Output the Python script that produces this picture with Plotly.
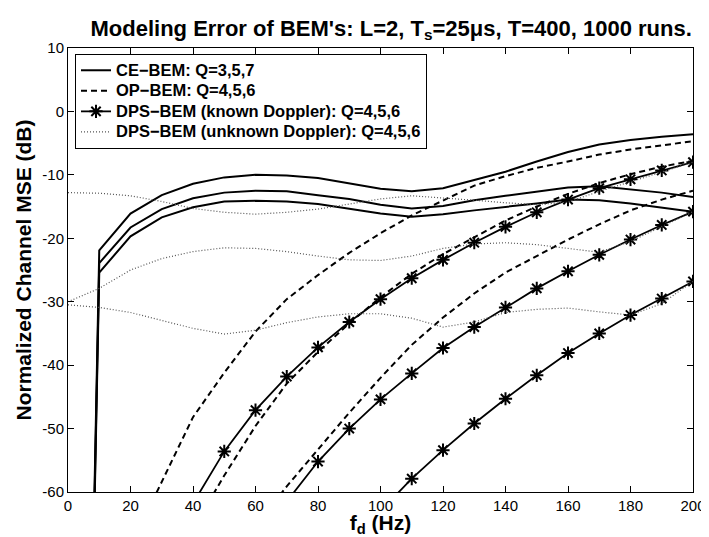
import plotly.graph_objects as go

# Doppler frequency grid (Hz)
fd = [0, 10, 20, 30, 40, 50, 60, 70, 80, 90, 100, 110, 120, 130, 140, 150, 160, 170, 180, 190, 200]

# CE-BEM (solid), Q = 3, 5, 7
ce_q3 = [-270, -21.9, -16.1, -13.2, -11.4, -10.4, -10.0, -10.1, -10.5, -11.3, -12.2, -12.6, -12.1, -10.8, -9.5, -7.9, -6.4, -5.2, -4.5, -4.0, -3.6]
ce_q5 = [-270, -23.9, -18.3, -15.4, -13.7, -12.8, -12.5, -12.6, -13.2, -13.8, -14.7, -15.3, -14.9, -14.0, -13.3, -12.6, -12.0, -11.8, -12.3, -12.8, -13.5]
ce_q7 = [-270, -25.4, -19.7, -16.7, -15.1, -14.2, -14.1, -14.2, -14.6, -15.3, -16.1, -16.6, -16.2, -15.6, -15.1, -14.5, -13.9, -14.0, -14.5, -15.1, -15.8]

# OP-BEM (dashed), Q = 4, 5, 6  (None = not visible / below axis range)
op_q4 = [None, None, -68.6, -58.4, -48.2, -41.2, -34.7, -29.6, -25.8, -22.3, -19.2, -16.4, -14.0, -11.7, -10.2, -8.9, -7.9, -6.8, -6.0, -5.3, -4.7]
op_q5 = [None, None, None, None, -65.8, -57.4, -49.6, -42.9, -37.9, -33.4, -29.3, -25.6, -22.5, -19.9, -17.2, -15.0, -13.0, -11.3, -9.9, -8.7, -7.8]
op_q6 = [None, None, None, None, None, None, -65.5, -59.1, -53.3, -47.5, -42.0, -36.8, -32.5, -28.7, -25.4, -22.8, -20.2, -17.8, -15.6, -13.9, -12.5]

# DPS-BEM, known Doppler (solid + stars), Q = 4, 5, 6
dk_q4 = [None, None, None, None, -61.8, -53.6, -47.1, -41.8, -37.2, -33.2, -29.6, -26.3, -23.4, -20.7, -18.2, -15.9, -13.9, -12.1, -10.7, -9.3, -8.0]
dk_q5 = [None, None, None, None, None, None, None, -61.5, -55.2, -50.0, -45.4, -41.3, -37.3, -34.0, -30.9, -27.9, -25.2, -22.6, -20.2, -17.9, -15.8]
dk_q6 = [None, None, None, None, None, None, None, None, None, None, -63.0, -57.9, -53.4, -49.2, -45.3, -41.6, -38.1, -35.0, -32.1, -29.5, -26.8]

# DPS-BEM, unknown Doppler (dotted), Q = 4, 5, 6
du_q4 = [-12.8, -12.9, -13.3, -14.2, -15.3, -15.9, -16.2, -15.9, -15.4, -14.6, -13.8, -13.3, -13.6, -14.0, -14.4, -14.7, -14.3, -12.6, -11.1, -9.6, -8.0]
du_q5 = [-30.0, -27.9, -25.0, -23.2, -22.1, -21.5, -21.6, -22.1, -22.8, -23.4, -23.5, -22.8, -21.6, -20.9, -20.7, -21.0, -21.6, -22.2, -20.5, -18.2, -15.8]
du_q6 = [-30.5, -30.9, -31.7, -32.9, -34.2, -35.1, -34.5, -33.3, -32.4, -31.9, -31.9, -32.6, -34.0, -33.2, -31.7, -31.2, -31.0, -31.6, -32.1, -30.3, -26.8]

x_ticks = [0, 20, 40, 60, 80, 100, 120, 140, 160, 180, 200]
y_ticks = [-60, -50, -40, -30, -20, -10, 0, 10]
y_ticktext = ["-60", "-50", "-40", "-30", "-20", "-10", "0", "10"]

legend_names = ["CE\u2212BEM: Q=3,5,7", "OP\u2212BEM: Q=4,5,6",
                "DPS\u2212BEM (known Doppler): Q=4,5,6",
                "DPS\u2212BEM (unknown Doppler): Q=4,5,6"]

FONT = "Liberation Sans, Arial, Helvetica, sans-serif"
fig = go.Figure()

def add_group(series, name, line, marker=None, mode="lines"):
    for i, ys in enumerate(series):
        kw = dict(x=fd, y=ys, mode=mode, line=line,
                  name="<span style=\"font-size:16.5px\"><b>%s</b></span>" % name,
                  showlegend=(i == 0), connectgaps=False)
        if marker is not None:
            kw["marker"] = marker
        fig.add_trace(go.Scatter(**kw))

add_group([ce_q3, ce_q5, ce_q7], legend_names[0], dict(color="black", width=2))
add_group([op_q4, op_q5, op_q6], legend_names[1], dict(color="black", width=2, dash="6px,4px"))
add_group([dk_q4, dk_q5, dk_q6], legend_names[2], dict(color="black", width=1.8),
          marker=dict(symbol="asterisk-open", size=11, color="black", line=dict(width=2, color="black")),
          mode="lines+markers")
add_group([du_q4, du_q5, du_q6], legend_names[3], dict(color="#555555", width=1.2, dash="1px,2px"))

axis_common = dict(showline=True, linecolor="black", linewidth=1, mirror="allticks",
                   ticks="inside", ticklen=6, tickcolor="black", showgrid=False, zeroline=False,
                   automargin=False,
                   tickfont=dict(size=15, color="black", family=FONT))

fig.update_xaxes(range=[0, 200], tickvals=x_ticks, **axis_common,
                 title=dict(text="<b>f<sub>d</sub> (Hz)</b>", font=dict(size=21, color="black", family=FONT), standoff=2))
fig.update_yaxes(range=[-60, 10], tickvals=y_ticks, ticktext=y_ticktext, **axis_common,
                 title=dict(text="<b>Normalized Channel MSE (dB)</b>", font=dict(size=21, color="black", family=FONT), standoff=4))

# page body adds an 8px margin, so the figure is 8px smaller than the window
fig.update_layout(
    width=701, height=529,
    margin=dict(l=60, r=16, t=40, b=45),
    paper_bgcolor="white", plot_bgcolor="white",
    font=dict(family=FONT, color="black"),
    title=dict(text="<b>Modeling Error of BEM's: L=2, T<sub>s</sub>=25\u03bcs, T=400, 1000 runs.</b>",
               x=0.517, xref="paper", xanchor="center", y=0.962, yanchor="middle",
               font=dict(size=22, color="black", family=FONT)),
    legend=dict(x=0.0112, y=0.9865, xanchor="left", yanchor="top",
                bgcolor="white", bordercolor="black", borderwidth=1,
                font=dict(size=13.5, color="black", family=FONT),
                itemwidth=30, tracegroupgap=0),
)

fig.write_html("out.html")
